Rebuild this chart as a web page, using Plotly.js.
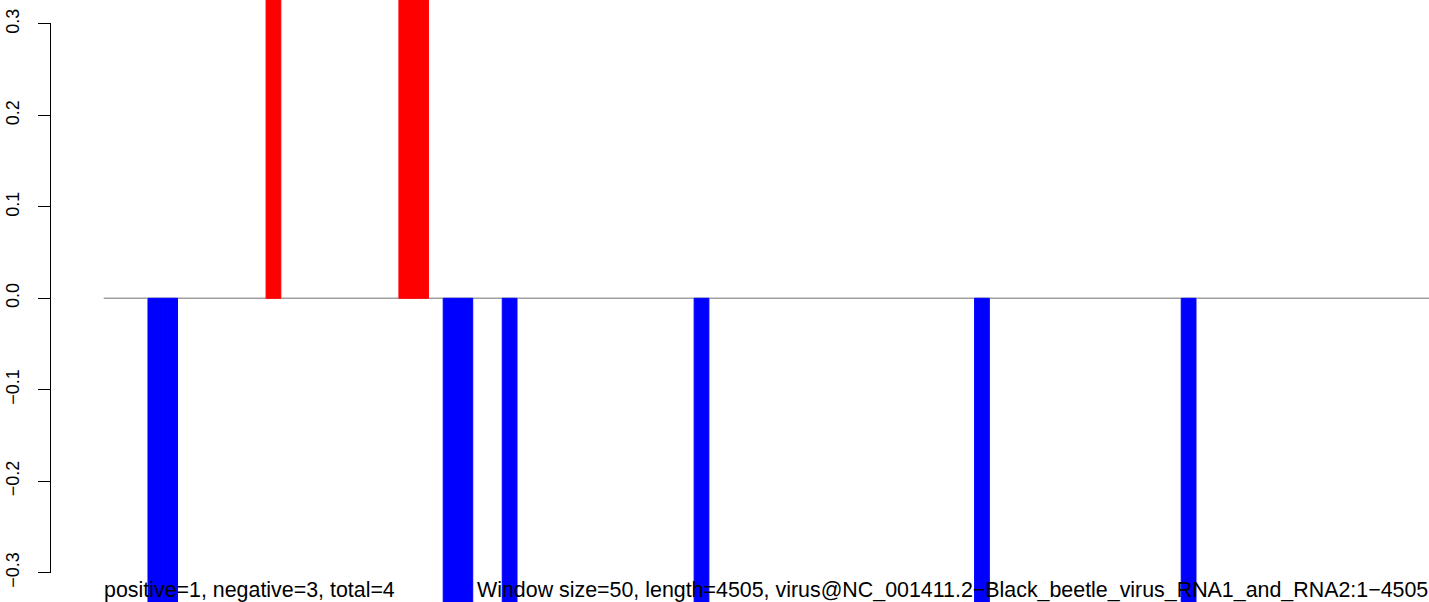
<!DOCTYPE html>
<html>
<head>
<meta charset="utf-8">
<script src="https://cdn.plot.ly/plotly-3.0.1.min.js"></script>
<style>html,body{margin:0;padding:0;background:#fff;}#chart{width:1429px;height:602px;}</style>
</head>
<body>
<div id="chart"></div>
<script>
// Window start positions (nt) and values
const windowSize = 50;
const genomeLength = 4505;
const positiveStarts = [550, 1000, 1050];
const positiveValues = [0.5, 0.5, 0.5];
const negativeStarts = [150, 200, 1150, 1200, 1350, 2000, 2950, 3650];
const negativeValues = [-0.5, -0.5, -0.5, -0.5, -0.5, -0.5, -0.5, -0.5];
const yTicks = [-0.3, -0.2, -0.1, 0.0, 0.1, 0.2, 0.3];
const summaryText = "positive=1, negative=3, total=4";
const infoText = "Window size=50, length=4505, virus@NC_001411.2\u2212Black_beetle_virus_RNA1_and_RNA2:1\u22124505";

const centers = a => a.map(s => s + windowSize / 2);

const traces = [
  {type: 'bar', x: centers(positiveStarts), y: positiveValues, width: windowSize,
   marker: {color: '#FF0000', line: {width: 1, color: '#FF0000'}}, hoverinfo: 'skip'},
  {type: 'bar', x: centers(negativeStarts), y: negativeValues, width: windowSize,
   marker: {color: '#0000FF', line: {width: 1, color: '#0000FF'}}, hoverinfo: 'skip'}
];

const layout = {
  width: 1429, height: 602,
  margin: {l: 0, r: 0, t: 0, b: 0, pad: 0},
  paper_bgcolor: '#FFFFFF', plot_bgcolor: 'rgba(0,0,0,0)',
  showlegend: false,
  barmode: 'overlay',
  font: {family: 'Liberation Sans, Arial, sans-serif', color: '#000000', size: 21},
  xaxis: {range: [-351.3, 4489.3], visible: false, fixedrange: true},
  yaxis: {
    range: [-0.3321, 0.3262], anchor: 'free', position: 50.5 / 1429,
    showline: false, zeroline: false, showgrid: false,
    tickmode: 'array', tickvals: yTicks, ticktext: yTicks.map(v => v.toFixed(1).replace('-', '\u2212')),
    ticks: 'outside', ticklen: 13, tickwidth: 1, tickcolor: '#000000',
    tickangle: -90, tickfont: {size: 18, color: '#000000'}, ticklabelstandoff: 11, fixedrange: true
  },
  shapes: [
    {type: 'line', xref: 'x', yref: 'y', x0: 0, x1: genomeLength, y0: 0, y1: 0,
     line: {color: '#A0A0A0', width: 1.5}, layer: 'below'},
    {type: 'line', xref: 'paper', yref: 'y', x0: 50.5 / 1429, x1: 50.5 / 1429,
     y0: yTicks[0], y1: yTicks[yTicks.length - 1], line: {color: '#000000', width: 1}}
  ],
  annotations: [
    {text: summaryText, xref: 'x', yref: 'paper', x: 0, y: 0.0, xanchor: 'left', yanchor: 'bottom',
     showarrow: false, font: {size: 21.4, color: '#000000'}, borderpad: 0, xshift: -1, yshift: -1},
    {text: infoText, xref: 'paper', yref: 'paper', x: 1, y: 0.0, xanchor: 'right', yanchor: 'bottom',
     showarrow: false, font: {size: 21.4, color: '#000000'}, borderpad: 0, yshift: -1}
  ]
};

Plotly.newPlot('chart', traces, layout, {displayModeBar: false, staticPlot: true});
</script>
</body>
</html>
